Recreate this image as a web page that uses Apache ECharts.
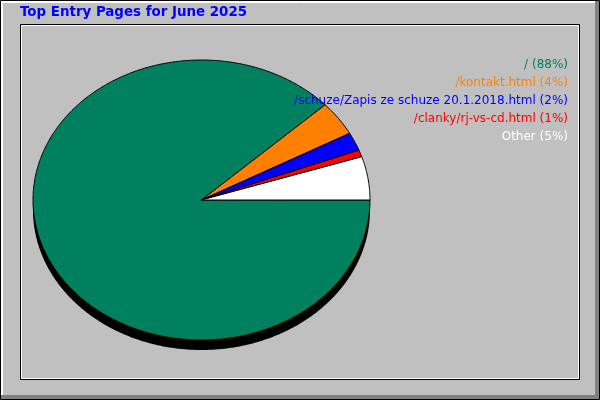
<!DOCTYPE html>
<html>
<head>
<meta charset="utf-8">
<script src="https://cdn.jsdelivr.net/npm/echarts@6/dist/echarts.min.js"></script>
<style>
  html, body { margin: 0; padding: 0; background: #c0c0c0; }
  #main { width: 600px; height: 400px; }
</style>
</head>
<body>
<div id="main"></div>
<script>
// data
const pageNames = ['/', '/kontakt.html', '/schuze/Zapis ze schuze 20.1.2018.html', '/clanky/rj-vs-cd.html', 'Other'];
const pageShares = [88.1, 4.0, 2.1, 0.8, 5.0];
const pageLabels = ['88%', '4%', '2%', '1%', '5%'];
const sliceColors = ['#00805f', '#ff8000', '#0000ff', '#ff0000', '#ffffff'];

const myChart = echarts.init(document.getElementById('main'));

// start/end fractions of each slice, going clockwise from 3 o'clock
const total = pageShares.reduce((a, b) => a + b, 0);
let acc = 0;
const slices = pageShares.map((v, i) => {
  const s = acc / total;
  acc += v;
  return { value: [s, acc / total], itemStyle: { color: sliceColors[i] } };
});

const DEPTH = 10;

function arcPoints(api, a0, a1, dy) {
  const pts = [];
  const n = Math.max(2, Math.ceil((a1 - a0) * 720));
  for (let k = 0; k <= n; k++) {
    const t = -2 * Math.PI * (a0 + (a1 - a0) * k / n);
    const p = api.coord([Math.cos(t), Math.sin(t)]);
    pts.push([p[0], p[1] + dy]);
  }
  return pts;
}

// labels at top right
const labelTexts = pageNames.map((name, i) => ({
  type  : 'text',
  x     : 568,
  y     : 65 + i * 18,
  z     : 5,
  style : {
    text          : `${name} (${pageLabels[i]})`,
    fill          : sliceColors[i],
    font          : '12px "DejaVu Sans"',
    textAlign     : 'right',
    textVerticalAlign : 'middle',
  },
}));

myChart.setOption({
  backgroundColor : '#c0c0c0',
  animation       : false,
  title           : {
    text      : 'Top Entry Pages for June 2025',
    left      : 20,
    top       : 6,
    padding   : 0,
    textStyle : { color: '#0000ff', fontSize: 13.4, fontWeight: 'bold', fontFamily: 'DejaVu Sans' },
  },
  grid  : { left: 33, top: 60, width: 337, height: 280 },
  xAxis : { type: 'value', min: -1, max: 1, show: false },
  yAxis : { type: 'value', min: -1, max: 1, show: false },
  graphic: [
    // frame
    { type: 'rect', shape: { x: 0.5, y: 0.5, width: 599, height: 399 }, style: { fill: null, stroke: '#000', lineWidth: 1 }, z: 0 },
    { type: 'polyline', shape: { points: [[1.5, 397], [1.5, 1.5], [597, 1.5]] }, style: { stroke: '#fff', lineWidth: 1 }, z: 0 },
    { type: 'polyline', shape: { points: [[2.5, 396], [2.5, 2.5], [596, 2.5]] }, style: { stroke: '#fff', lineWidth: 1 }, z: 0 },
    { type: 'rect', shape: { x: 595, y: 1, width: 4, height: 398 }, style: { fill: '#808080' }, z: 0 },
    { type: 'rect', shape: { x: 1, y: 395, width: 598, height: 4 }, style: { fill: '#808080' }, z: 0 },
    { type: 'rect', shape: { x: 20.5, y: 24.5, width: 559, height: 355 }, style: { fill: null, stroke: '#000', lineWidth: 1 }, z: 0 },
    { type: 'rect', shape: { x: 21.5, y: 25.5, width: 557, height: 353 }, style: { fill: null, stroke: '#fff', lineWidth: 1 }, z: 0 },
  ].concat(labelTexts),
  series: [
    {
      name        : 'depth',
      type        : 'custom',
      coordinateSystem: 'cartesian2d',
      data        : [[0, 1]],
      z           : 1,
      renderItem  : (params, api) => ({
        type  : 'polygon',
        shape : { points: arcPoints(api, 0, 1, DEPTH) },
        style : { fill: '#000' },
      }),
    },
    {
      name        : 'pages',
      type        : 'custom',
      coordinateSystem: 'cartesian2d',
      data        : slices,
      z           : 2,
      renderItem  : (params, api) => {
        const a0 = api.value(0);
        const a1 = api.value(1);
        const c = api.coord([0, 0]);
        const pts = [c].concat(arcPoints(api, a0, a1, 0));
        return {
          type  : 'polygon',
          shape : { points: pts },
          style : { fill: api.visual('color'), stroke: '#000', lineWidth: 1 },
        };
      },
    },
  ],
});
</script>
</body>
</html>
